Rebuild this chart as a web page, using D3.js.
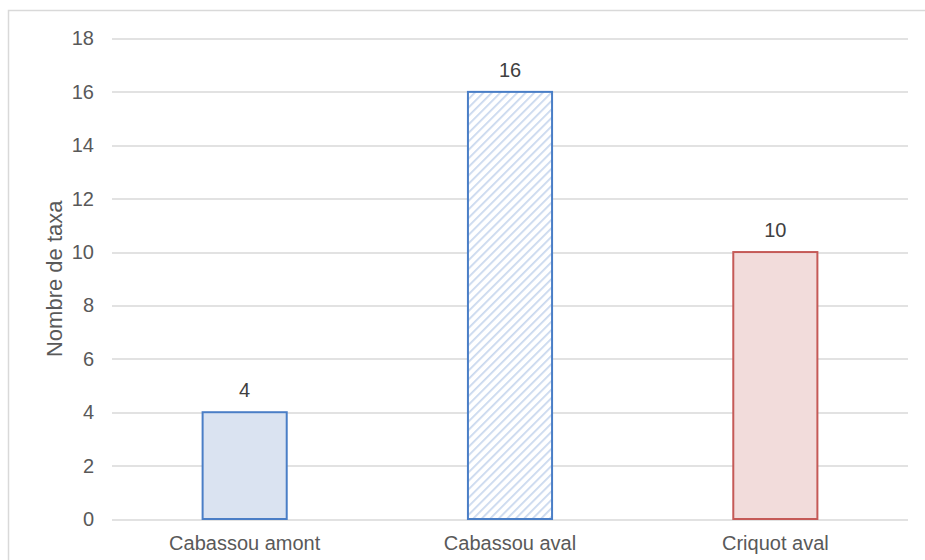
<!DOCTYPE html>
<html>
<head>
<meta charset="utf-8">
<script src="https://cdn.jsdelivr.net/npm/d3@7"></script>
<style>
  body { margin: 0; background: #fff; }
  svg { display: block; font-family: "Liberation Sans", Arial, sans-serif; }
</style>
</head>
<body>
<div id="chart"></div>
<script>
const categories = ["Cabassou amont", "Cabassou aval", "Criquot aval"];
const values = [4, 16, 10];
const fills = ["#dae3f1", "url(#hatch)", "#f2dcdb"];
const strokes = ["#4a7ec6", "#4a7ec6", "#c55a57"];
const yTicks = [0, 2, 4, 6, 8, 10, 12, 14, 16, 18];

const W = 925, H = 560;
const margin = { top: 38.5, right: 17, bottom: 41, left: 112 };
const width = W - margin.left - margin.right;
const height = H - margin.top - margin.bottom;

const svg = d3.select("#chart").append("svg")
    .attr("width", W)
    .attr("height", H);

const defs = svg.append("defs");
const pat = defs.append("pattern")
    .attr("id", "hatch")
    .attr("patternUnits", "userSpaceOnUse")
    .attr("width", 6)
    .attr("height", 6)
    .attr("patternTransform", "rotate(45)");
pat.append("rect").attr("width", 6).attr("height", 6).attr("fill", "#fff");
pat.append("line")
    .attr("x1", 0).attr("y1", 0).attr("x2", 0).attr("y2", 6)
    .attr("stroke", "#c9d8ee")
    .attr("stroke-width", 3.5);

// chart frame (top and left edges only)
svg.append("path")
    .attr("d", `M8.5,${H} V10.5 H${W}`)
    .attr("fill", "none")
    .attr("stroke", "#d9d9d9")
    .attr("stroke-width", 1.5);

const g = svg.append("g")
    .attr("transform", `translate(${margin.left}, ${margin.top})`);

const x = d3.scaleBand()
    .domain(categories)
    .range([0, width])
    .paddingInner(0.683)
    .paddingOuter(0.3415);

const y = d3.scaleLinear()
    .domain([0, 18])
    .range([height, 0]);

g.selectAll(".grid")
    .data(yTicks)
    .enter().append("line")
    .attr("class", "grid")
    .attr("x1", 0)
    .attr("x2", width)
    .attr("y1", d => Math.round(y(d)) + 0.5)
    .attr("y2", d => Math.round(y(d)) + 0.5)
    .attr("stroke", "#d9d9d9")
    .attr("stroke-width", 1.5);

const yAxis = g.append("g")
    .call(d3.axisLeft(y).tickValues(yTicks).tickSize(0).tickPadding(18));
yAxis.select(".domain").remove();
yAxis.selectAll("text")
    .style("font-family", "Liberation Sans, Arial, sans-serif")
    .style("font-size", "20px")
    .style("fill", "#595959");

g.selectAll(".bar")
    .data(values)
    .enter().append("rect")
    .attr("class", "bar")
    .attr("x", (d, i) => x(categories[i]))
    .attr("y", d => y(d))
    .attr("width", x.bandwidth())
    .attr("height", d => height - y(d))
    .attr("fill", (d, i) => fills[i])
    .attr("stroke", (d, i) => strokes[i])
    .attr("stroke-width", 2);

g.selectAll(".label")
    .data(values)
    .enter().append("text")
    .attr("class", "label")
    .attr("x", (d, i) => x(categories[i]) + x.bandwidth() / 2)
    .attr("y", d => y(d) - 15)
    .attr("text-anchor", "middle")
    .style("font-size", "20px")
    .style("fill", "#404040")
    .text(d => d);

const xAxis = g.append("g")
    .attr("transform", `translate(0, ${height})`)
    .call(d3.axisBottom(x).tickSize(0).tickPadding(17));
xAxis.select(".domain").remove();
xAxis.selectAll("text")
    .style("font-family", "Liberation Sans, Arial, sans-serif")
    .style("font-size", "20px")
    .style("fill", "#595959");

g.append("text")
    .attr("transform", "rotate(-90)")
    .attr("x", -height / 2)
    .attr("y", -50)
    .attr("text-anchor", "middle")
    .style("font-size", "22px")
    .style("fill", "#595959")
    .text("Nombre de taxa");
</script>
</body>
</html>
